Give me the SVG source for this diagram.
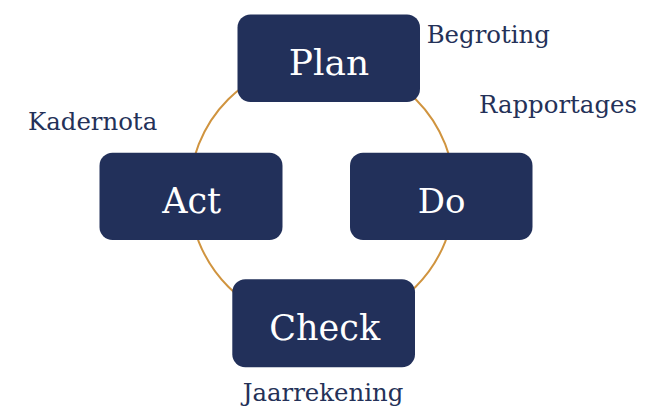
<svg xmlns="http://www.w3.org/2000/svg" width="661" height="407" viewBox="0 0 661 407">
<style>
.box{fill:#22305a;}
.bt{font-family:"DejaVu Serif","Liberation Serif",serif;fill:#ffffff;text-anchor:middle;}
.lbl{font-family:"DejaVu Serif","Liberation Serif",serif;fill:#243158;font-size:24.4px;}
.ring{fill:none;stroke:#d0943f;stroke-width:2;}
</style>
<rect width="661" height="407" fill="#ffffff"/>
<g id="connectors">
<circle class="ring" cx="322" cy="193" r="132.5"/>
</g>
<g id="plan">
<rect class="box" x="237.5" y="14.5" width="182.5" height="87.5" rx="13"/>
<text class="bt" x="329" y="75" font-size="36">Plan</text>
</g>
<g id="do">
<rect class="box" x="350" y="152.7" width="182.5" height="87.3" rx="13"/>
<text class="bt" x="441.7" y="212.7" font-size="34">Do</text>
</g>
<g id="act">
<rect class="box" x="99.5" y="152.7" width="183" height="87.3" rx="13"/>
<text class="bt" x="191.7" y="212.7" font-size="35">Act</text>
</g>
<g id="check">
<rect class="box" x="232.3" y="279.3" width="182.7" height="88" rx="13"/>
<text class="bt" x="324.7" y="340" font-size="35">Check</text>
</g>
<g id="labels">
<text class="lbl" x="426.7" y="42.7">Begroting</text>
<text class="lbl" x="479" y="113.3" font-size="24.5">Rapportages</text>
<text class="lbl" x="28" y="130">Kadernota</text>
<text class="lbl" x="242.7" y="400.5">Jaarrekening</text>
</g>
</svg>
